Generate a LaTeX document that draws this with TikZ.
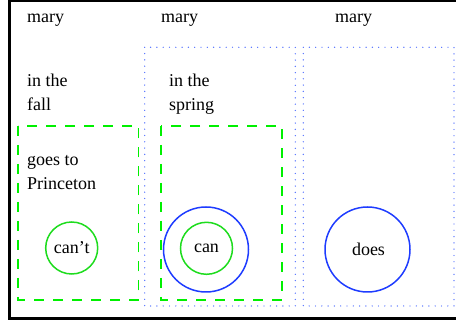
\documentclass[tikz,border=0pt]{standalone}
\usepackage{fontspec}
\setmainfont{Liberation Serif}
\definecolor{gr}{RGB}{0,240,0}
\definecolor{grc}{RGB}{30,220,30}
\definecolor{bl}{RGB}{30,60,255}
\definecolor{bld}{RGB}{80,110,255}
\begin{document}
\begin{tikzpicture}[x=1pt,y=-1pt,
  lbl/.style={anchor=base west,inner sep=0pt,font=\fontsize{18}{24}\selectfont,align=left},
  ctext/.style={inner sep=0pt,font=\fontsize{18}{24}\selectfont},
  gbox/.style={draw=gr,line width=1.8pt,dash pattern=on 10pt off 9pt},
  bbox/.style={draw=bld,line width=1.4pt,line cap=round,dash pattern=on 0pt off 6.3pt},
  gcirc/.style={draw=grc,line width=1.5pt,circle,minimum size=52pt,inner sep=0pt},
  bcirc/.style={draw=bl,line width=1.5pt,circle,minimum size=85pt,inner sep=0pt}]
\useasboundingbox (0,0) rectangle (456,320);
\begin{scope}
\clip (0,0) rectangle (456,320);
\draw[line width=2.6pt] (9.3,0.8) rectangle (480,318.6);
\end{scope}
% text labels
\node[lbl] (m1) at (27,23) {mary};
\node[lbl] (m2) at (161,23) {mary};
\node[lbl] (m3) at (335,23) {mary};
\node[lbl] (f1) at (27,111) {in the\\fall};
\node[lbl] (f2) at (169,111) {in the\\spring};
\node[lbl] (g1) at (27,190) {goes to\\Princeton};
% boxes
\draw[bbox] (144.7,47.3) rectangle (295.3,306);
\draw[bbox] (303.3,47.3) rectangle (454,306);
\draw[gbox] (18,126) rectangle (138.5,300);
\draw[gbox] (161,126) rectangle (282,300);
% circles
\node[gcirc] (c1) at (71.7,248) {};
\node[ctext] (t1) at (71.7,248) {can't};
\node[bcirc] (b2) at (206,249.5) {};
\node[gcirc] (c2) at (206.5,248.3) {};
\node[ctext] (t2) at (206.5,248.3) {can};
\node[bcirc] (b3) at (367.5,249.5) {};
\node[ctext] (t3) at (368.5,249.5) {does};
\end{tikzpicture}
\end{document}
